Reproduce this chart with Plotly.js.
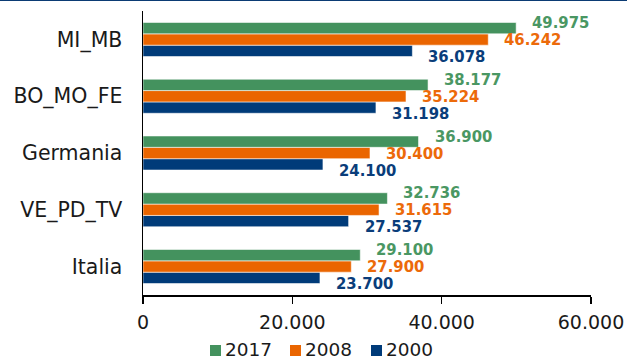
<!DOCTYPE html>
<html>
<head>
<meta charset="utf-8">
<script src="https://cdn.plot.ly/plotly-3.0.1.min.js"></script>
<style>
html,body{margin:0;padding:0;background:#fff;}
#chart{width:627px;height:359px;border-top:1px solid #0b3b74;}
</style>
</head>
<body>
<div id="chart"></div>
<script>
// Data (top to bottom as shown)
const categories = ["MI_MB", "BO_MO_FE", "Germania", "VE_PD_TV", "Italia"];
const values2017 = [49975, 38177, 36900, 32736, 29100];
const values2008 = [46242, 35224, 30400, 31615, 27900];
const values2000 = [36078, 31198, 24100, 27537, 23700];
const seriesNames = ["2017", "2008", "2000"];
const xTicks = [0, 20000, 40000, 60000];

const colors = {"2017": "#44925e", "2008": "#ea6500", "2000": "#003b79"};
const labelColors = {"2017": "#4a9763", "2008": "#ec6a0a", "2000": "#0a3d7a"};

function fmt(v) {
  return String(Math.round(v)).replace(/\B(?=(\d{3})+(?!\d))/g, ".");
}

const W = 627, H = 359;
const M = {l: 143, r: 36, t: 10, b: 65};
const plotW = W - M.l - M.r, plotH = H - M.t - M.b;
const pxX = px => (px - M.l) / plotW;          // figure px -> paper x
const pxY = py => (H - M.b - py) / plotH;      // figure px -> paper y

const seriesData = {"2017": values2017, "2008": values2008, "2000": values2000};
// bottom-of-group first so 2017 ends up on top
const drawOrder = ["2000", "2008", "2017"];
const traces = drawOrder.map(name => ({
  type: "bar",
  orientation: "h",
  name: name,
  x: seriesData[name],
  y: categories,
  marker: {color: colors[name], line: {color: "rgba(255,255,255,0.55)", width: 1}},
  hoverinfo: "none",
  showlegend: false
}));

const yShift = {"2017": 17, "2008": 0, "2000": -17};
const annotations = [];
seriesNames.forEach(name => {
  seriesData[name].forEach((v, i) => {
    annotations.push({
      x: v, y: categories[i], xref: "x", yref: "y",
      text: fmt(v), showarrow: false,
      xanchor: "left", yanchor: "middle",
      xshift: 14, yshift: yShift[name],
      font: {family: "DejaVu Sans Condensed, DejaVu Sans", size: 16.5, color: labelColors[name], weight: "bold"}
    });
  });
});

// custom legend (key squares + labels) below the axis
const legendKeyLeft = [210, 290, 371];
const legendTop = 344, keySize = 11;
const shapes = [];
seriesNames.forEach((name, k) => {
  const x0 = legendKeyLeft[k];
  shapes.push({
    type: "rect", xref: "paper", yref: "paper",
    x0: pxX(x0), x1: pxX(x0 + keySize),
    y0: pxY(legendTop + keySize), y1: pxY(legendTop),
    fillcolor: colors[name], line: {width: 0}
  });
  annotations.push({
    xref: "paper", yref: "paper",
    x: pxX(x0 + keySize + 3), y: pxY(legendTop + keySize / 2 - 1.5),
    xanchor: "left", yanchor: "middle",
    text: name, showarrow: false, borderpad: 0,
    font: {family: "DejaVu Sans", size: 18.5, color: "#1a1a1a"}
  });
});

const layout = {
  width: W, height: H,
  margin: M,
  paper_bgcolor: "#fff", plot_bgcolor: "#fff",
  separators: ",.",
  barmode: "group",
  bargap: 0.4,
  bargroupgap: 0,
  font: {family: "DejaVu Sans", color: "#1a1a1a"},
  xaxis: {
    range: [0, 60000],
    tickvals: xTicks,
    ticktext: xTicks.map(fmt),
    showgrid: false, zeroline: false,
    showline: true, linecolor: "#000", linewidth: 1.5,
    ticks: "outside", ticklen: 7, tickwidth: 1.5, tickcolor: "#000",
    ticklabelstandoff: 3,
    tickfont: {size: 19, color: "#1a1a1a"},
    fixedrange: true
  },
  yaxis: {
    type: "category",
    categoryorder: "array",
    categoryarray: categories.slice().reverse(),
    showgrid: false, zeroline: false,
    showline: true, linecolor: "#000", linewidth: 1.5,
    ticks: "", ticklabelstandoff: 15,
    tickfont: {size: 20.5, color: "#1a1a1a"},
    fixedrange: true
  },
  showlegend: false,
  shapes: shapes,
  annotations: annotations
};

Plotly.newPlot("chart", traces, layout, {displayModeBar: false, staticPlot: true});
</script>
</body>
</html>
